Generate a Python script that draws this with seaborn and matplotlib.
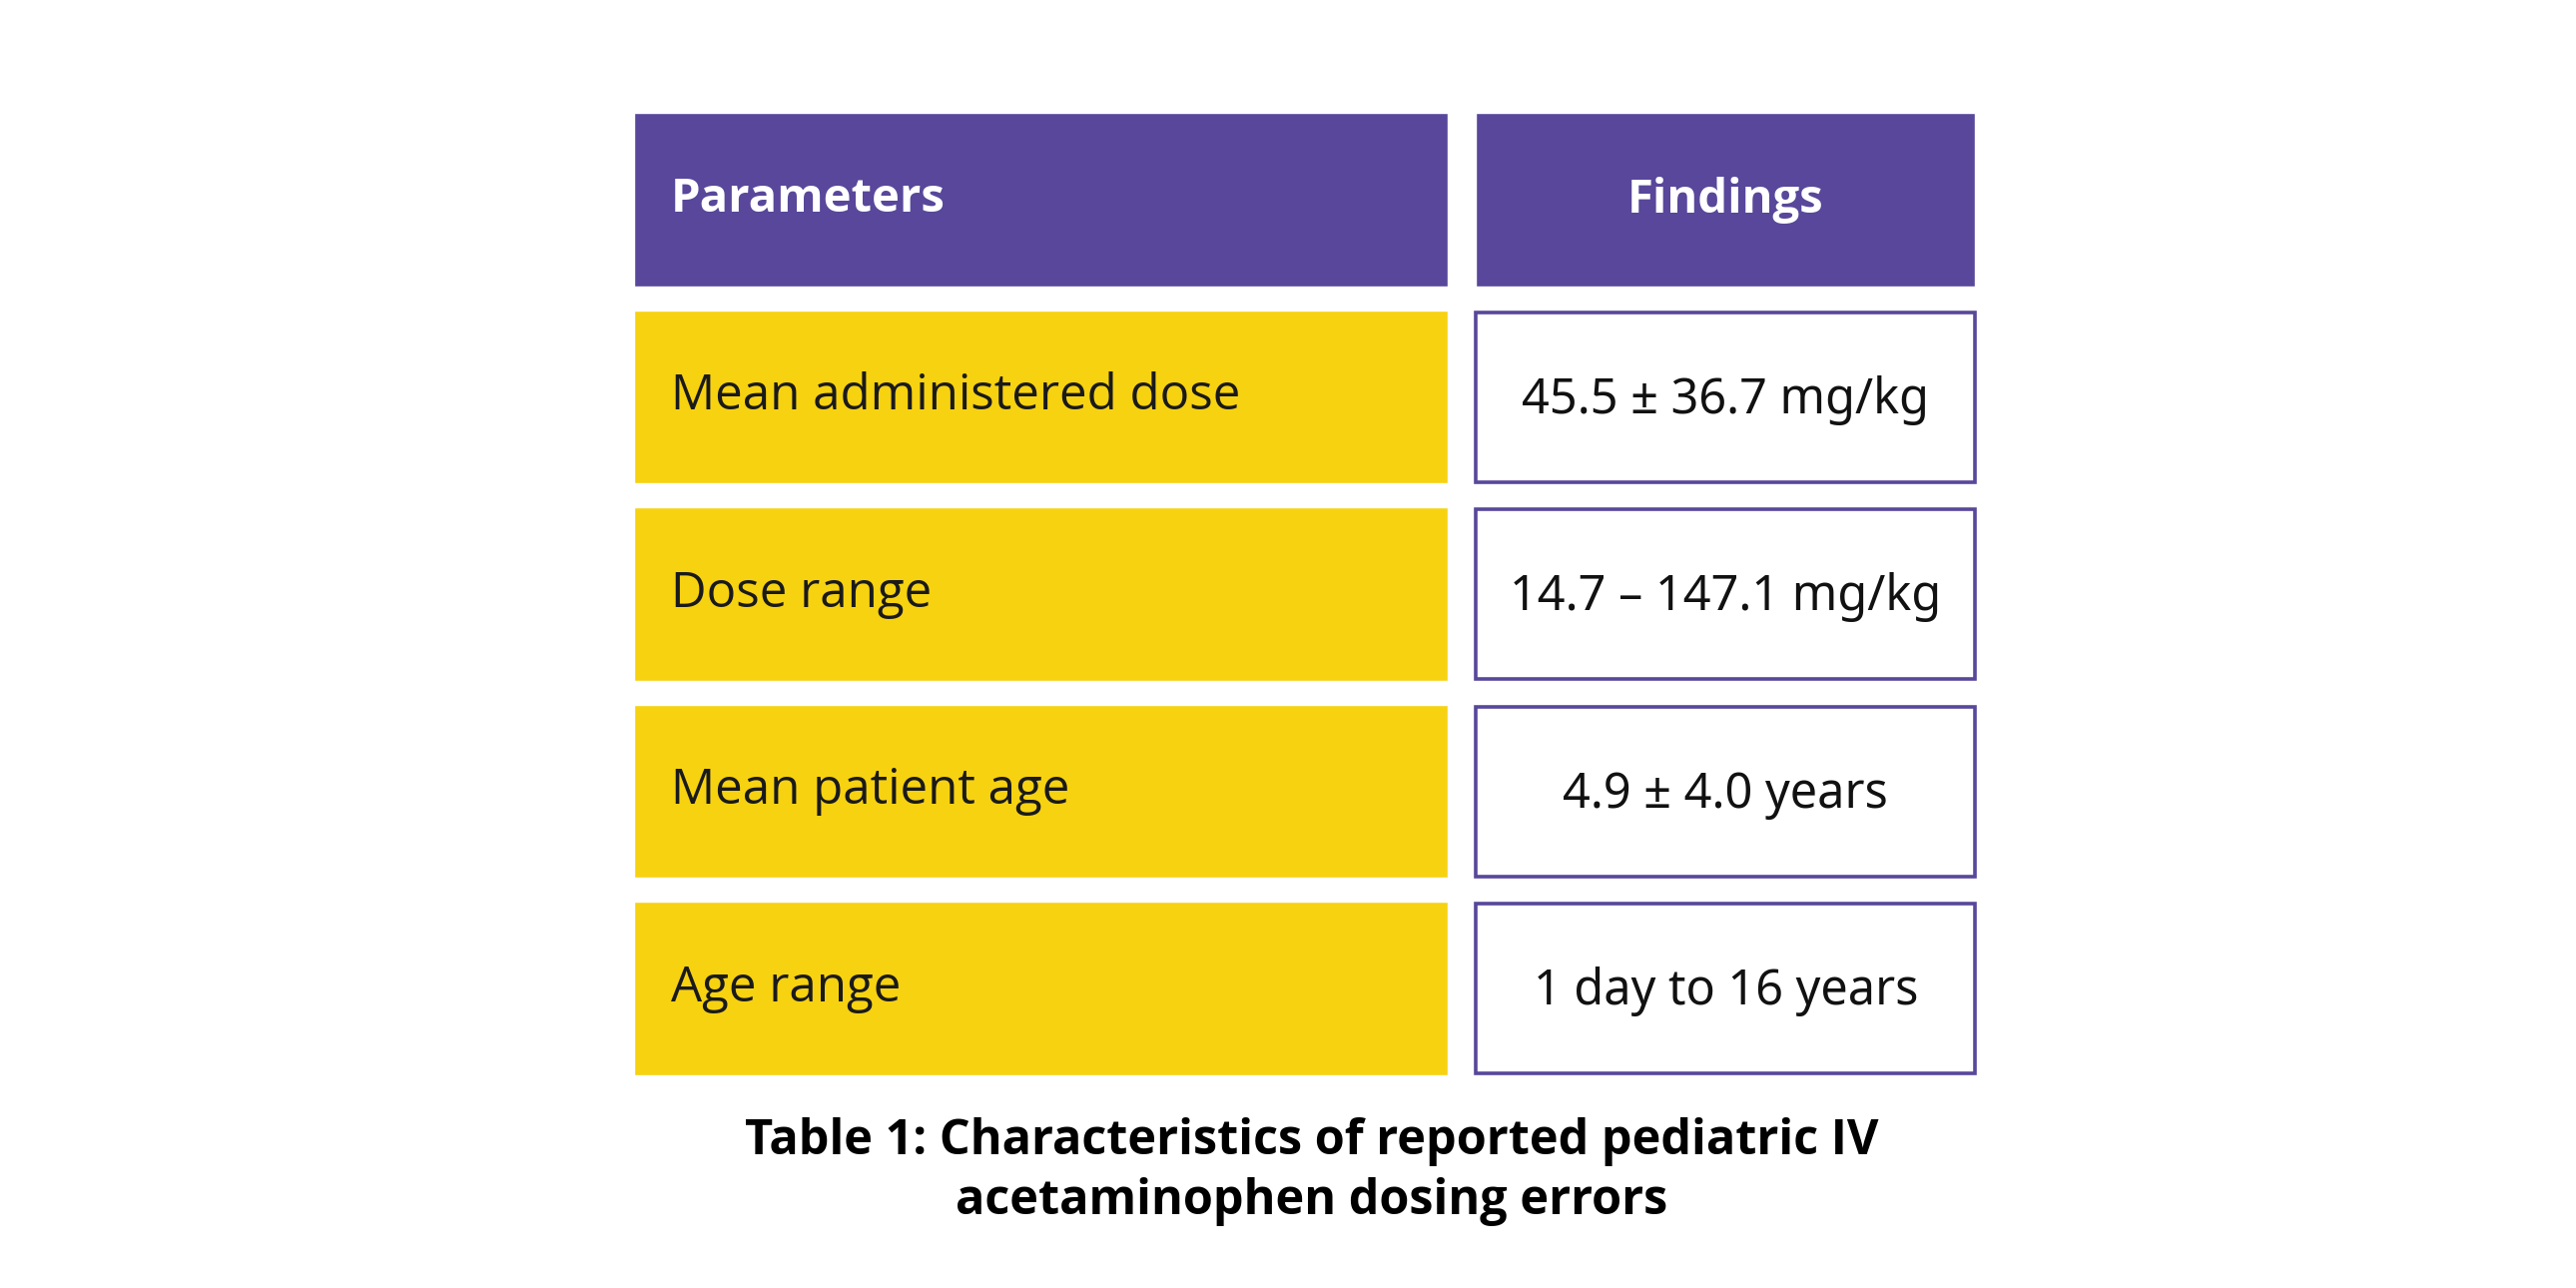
import matplotlib
matplotlib.use("Agg")
import matplotlib.pyplot as plt
import seaborn as sns

# table content
headers = ["Parameters", "Findings"]
parameters = ["Mean administered dose", "Dose range", "Mean patient age", "Age range"]
findings = ["45.5 ± 36.7 mg/kg", "14.7 – 147.1 mg/kg", "4.9 ± 4.0 years", "1 day to 16 years"]
caption = "Table 1: Characteristics of reported pediatric IV\nacetaminophen dosing errors"

purple = "#58479A"
yellow = "#F7D210"

sns.set_theme(style="white")
plt.rcParams["font.family"] = ["Open Sans", "DejaVu Sans"]

fig = plt.figure(figsize=(25.8, 12.9), dpi=100)
ax = fig.add_axes([0, 0, 1, 1])
ax.set_xlim(0, 1548)
ax.set_ylim(774, 0)
ax.axis("off")

# layout (in 1548 x 774 canvas units)
left_x, left_w = 381, 489
right_x, right_w = 887, 300
row_h = 104
top_y = 120
pitch = 118.5

# header row
ax.barh(top_y, left_w, left=left_x, height=row_h, color=purple)
ax.barh(top_y, right_w, left=right_x, height=row_h, color=purple)
ax.text(left_x + 22, top_y, headers[0], color="white", fontsize=34,
        fontweight="bold", va="center", ha="left")
ax.text(right_x + right_w / 2, top_y, headers[1], color="white", fontsize=34,
        fontweight="bold", va="center", ha="center")

# body rows
ys = [top_y + pitch * (i + 1) for i in range(len(parameters))]
ax.barh(ys, left_w, left=left_x, height=row_h, color=yellow)
ax.barh(ys, right_w, left=right_x, height=row_h - 2, color="white",
        edgecolor=purple, linewidth=2.6)
for y, p, f in zip(ys, parameters, findings):
    ax.text(left_x + 22, y, p, color="#1a1a1a", fontsize=35.5, va="center", ha="left")
    ax.text(right_x + right_w / 2, y + 2, f, color="#111111", fontsize=35,
            va="center", ha="center", family=["Noto Sans", "DejaVu Sans"])

# caption
ax.text(788, 704, caption, color="black", fontsize=35, fontweight="bold",
        ha="center", va="center", linespacing=1.3)

fig.savefig("out.png", dpi=100, facecolor="white")
